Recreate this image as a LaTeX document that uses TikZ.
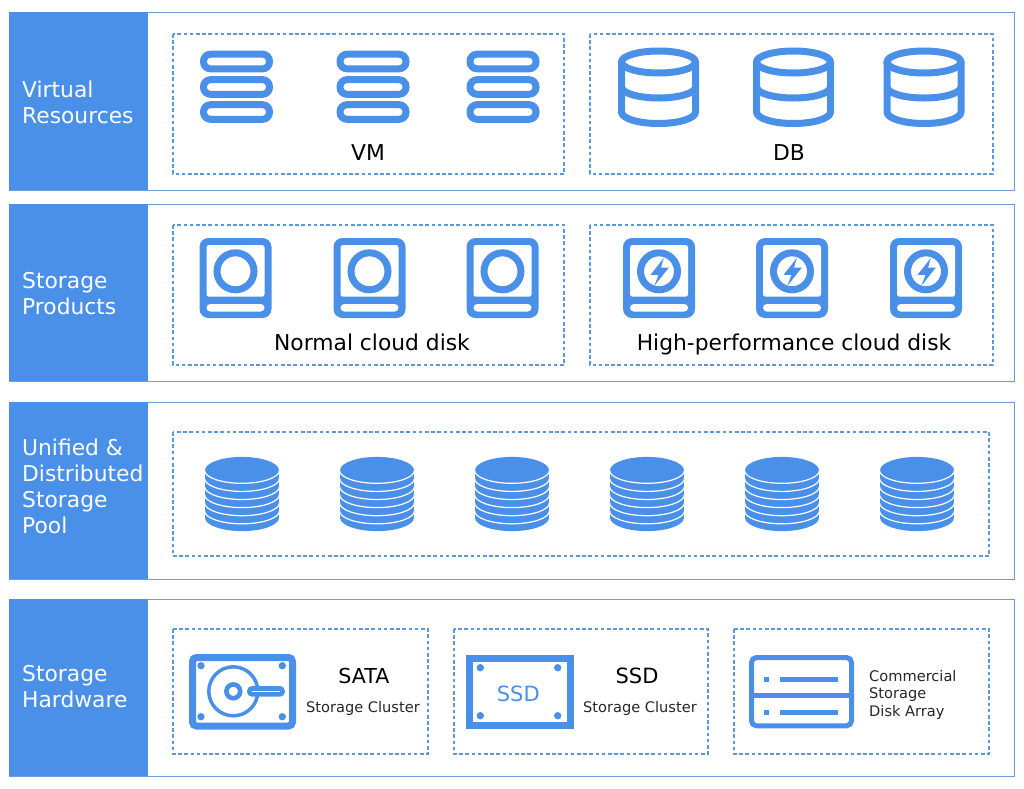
\documentclass[tikz,border=0pt]{standalone}
\usepackage{fontspec}
\setmainfont{DejaVu Sans}
\definecolor{iconblue}{HTML}{4A90E8}
\definecolor{edgeblue}{HTML}{6C9ED8}
\definecolor{dashblue}{HTML}{5B97DC}
\begin{document}
\begin{tikzpicture}[
    x=1pt, y=-1pt,
    band/.style={draw=edgeblue, line width=0.8pt},
    head/.style={fill=iconblue},
    panel/.style={draw=dashblue, line width=1.3pt, dash pattern=on 3.6pt off 2.6pt},
    side/.style={text=white, anchor=west, align=left, inner sep=0pt, font=\fontsize{21.8}{26.1}\selectfont},
    lbl/.style={text=black, inner sep=0pt, font=\fontsize{21.8}{26}\selectfont},
    sub/.style={text=black!85, inner sep=0pt, font=\fontsize{14.6}{17.5}\selectfont},
    stroke/.style={draw=iconblue, line width=#1},
    stroke/.default=7pt,
    vmicon/.pic={
      \foreach \ry in {-25.5,0,25} {
        \draw[stroke, rounded corners=7pt] (-33,\ry-7.3) rectangle (33,\ry+7.3);
      }
    },
    dbicon/.pic={
      \draw[stroke] (0,-25) ellipse [x radius=37, y radius=11];
      \draw[stroke, line join=round] (-37,-25) -- (-37,25) arc [start angle=180, end angle=0, x radius=37, y radius=11.5] -- (37,-25);
      \draw[stroke] (-37,0) arc [start angle=180, end angle=0, x radius=37, y radius=11];
    },
    diskicon/.pic={
      \fill[iconblue, rounded corners=9pt] (-36,-40) rectangle (36,40);
      \fill[white, rounded corners=2.5pt] (-29,-33) rectangle (29,18.7);
      \fill[white, rounded corners=3.7pt] (-29,26) rectangle (29,33.5);
      \draw[stroke] (0,-6.7) circle [radius=18.5];
    },
    fasticon/.pic={
      \pic {diskicon};
      \fill[iconblue] (4.8,-20) -- (-8.4,-3.2) -- (-0.4,-3.2) -- (-4.8,8) -- (9.8,-10.4) -- (2,-10.4) -- cycle;
    },
    stackicon/.pic={
      \fill[iconblue] (-37,-23.7) rectangle (37,23.7);
      \fill[iconblue] (0,-23.7) ellipse [x radius=37, y radius=13.4];
      \fill[iconblue] (0,23.7) ellipse [x radius=37, y radius=13.4];
      \foreach \k in {0,...,5} {
        \draw[white, line width=1.2pt] (-37.5,-23.7+\k*8.1) arc [start angle=180, end angle=0, x radius=37.5, y radius=13];
      }
    },
  ]
  \useasboundingbox (0,0) rectangle (1024,788);

  % Bands
  \foreach \ya/\yb in {12/190, 204/381, 402/579, 599/776} {
    \draw[band] (9,\ya) rectangle (1014,\yb);
    \fill[head] (9,\ya) rectangle (148,\yb);
  }

  % Band titles
  \node[side] (vres) at (22,102) {Virtual\\Resources};
  \node[side] (prod) at (22,294) {Storage\\Products};
  \node[side] (pool) at (22,486.5) {Unified \&\\Distributed\\Storage\\Pool};
  \node[side] (hard) at (22,686.5) {Storage\\Hardware};

  % Dashed groups
  \draw[panel] (173,34) rectangle (564,174);
  \draw[panel] (590,34) rectangle (993,174);
  \draw[panel] (173,225) rectangle (564,365);
  \draw[panel] (590,225) rectangle (993,365);
  \draw[panel] (173,432) rectangle (989,556);
  \draw[panel] (173,629) rectangle (428,754);
  \draw[panel] (454,629) rectangle (708,754);
  \draw[panel] (734,629) rectangle (989,754);

  % Virtual resources
  \foreach \cx in {236.5,373,503} \pic at (\cx,87) {vmicon};
  \foreach \cx in {658.5,793.5,924} \pic at (\cx,87) {dbicon};
  \node[lbl] (vm) at (368,153) {VM};
  \node[lbl] (db) at (789,153) {DB};

  % Storage products
  \foreach \cx in {235.5,369.5,502.5} \pic at (\cx,278) {diskicon};
  \foreach \cx in {659,792,926} \pic at (\cx,278) {fasticon};
  \node[lbl] (normal) at (372,342) {Normal cloud disk};
  \node[lbl] (fast) at (794,344) {High-performance cloud disk};

  % Storage pool
  \foreach \cx in {242,377,512,647,782,917} \pic at (\cx,494) {stackicon};

  % SATA
  \draw[stroke, rounded corners=4pt] (192.5,657.5) rectangle (292.5,726);
  \foreach \dx/\dy in {201/665.7, 282.3/665.7, 201/716.7, 282.3/716.7} {
    \fill[iconblue] (\dx,\dy) circle [radius=3.7];
  }
  \draw[stroke=3.5pt] (233.3,691.3) circle [radius=24.5];
  \draw[stroke=4.6pt] (233.3,691.3) circle [radius=6.9];
  \fill[iconblue, rounded corners=5pt] (247,686) rectangle (285,696.7);
  \fill[white] (252,690.6) rectangle (280,692.1);
  \node[lbl, font=\fontsize{20.6}{24}\selectfont] (sata) at (364,675.5) {SATA};
  \node[sub] (satasub) at (363,708) {Storage Cluster};

  % SSD
  \draw[stroke] (469.5,658.5) rectangle (570,725.8);
  \foreach \dx/\dy in {480.3/667.7, 557.7/667.7, 480.3/715.7, 557.7/715.7} {
    \fill[iconblue] (\dx,\dy) circle [radius=3.7];
  }
  \node[lbl, text=iconblue, font=\fontsize{21}{25}\selectfont] (ssdmark) at (518.3,693.5) {SSD};
  \node[lbl, font=\fontsize{21}{25}\selectfont] (ssd) at (637,675.5) {SSD};
  \node[sub] (ssdsub) at (640,708) {Storage Cluster};

  % Disk array
  \draw[stroke=5pt, rounded corners=5pt] (751.5,657.5) rectangle (851.5,725.8);
  \draw[stroke=5pt] (751.5,695) -- (851.5,695);
  \foreach \ry in {679.2,712.5} {
    \fill[iconblue] (764,\ry-2.5) rectangle (769,\ry+2.5);
    \fill[iconblue] (780,\ry-2.5) rectangle (838.3,\ry+2.5);
  }
  \node[sub, anchor=west, align=left] (array) at (869,694.5) {Commercial\\Storage\\Disk Array};
\end{tikzpicture}
\end{document}
